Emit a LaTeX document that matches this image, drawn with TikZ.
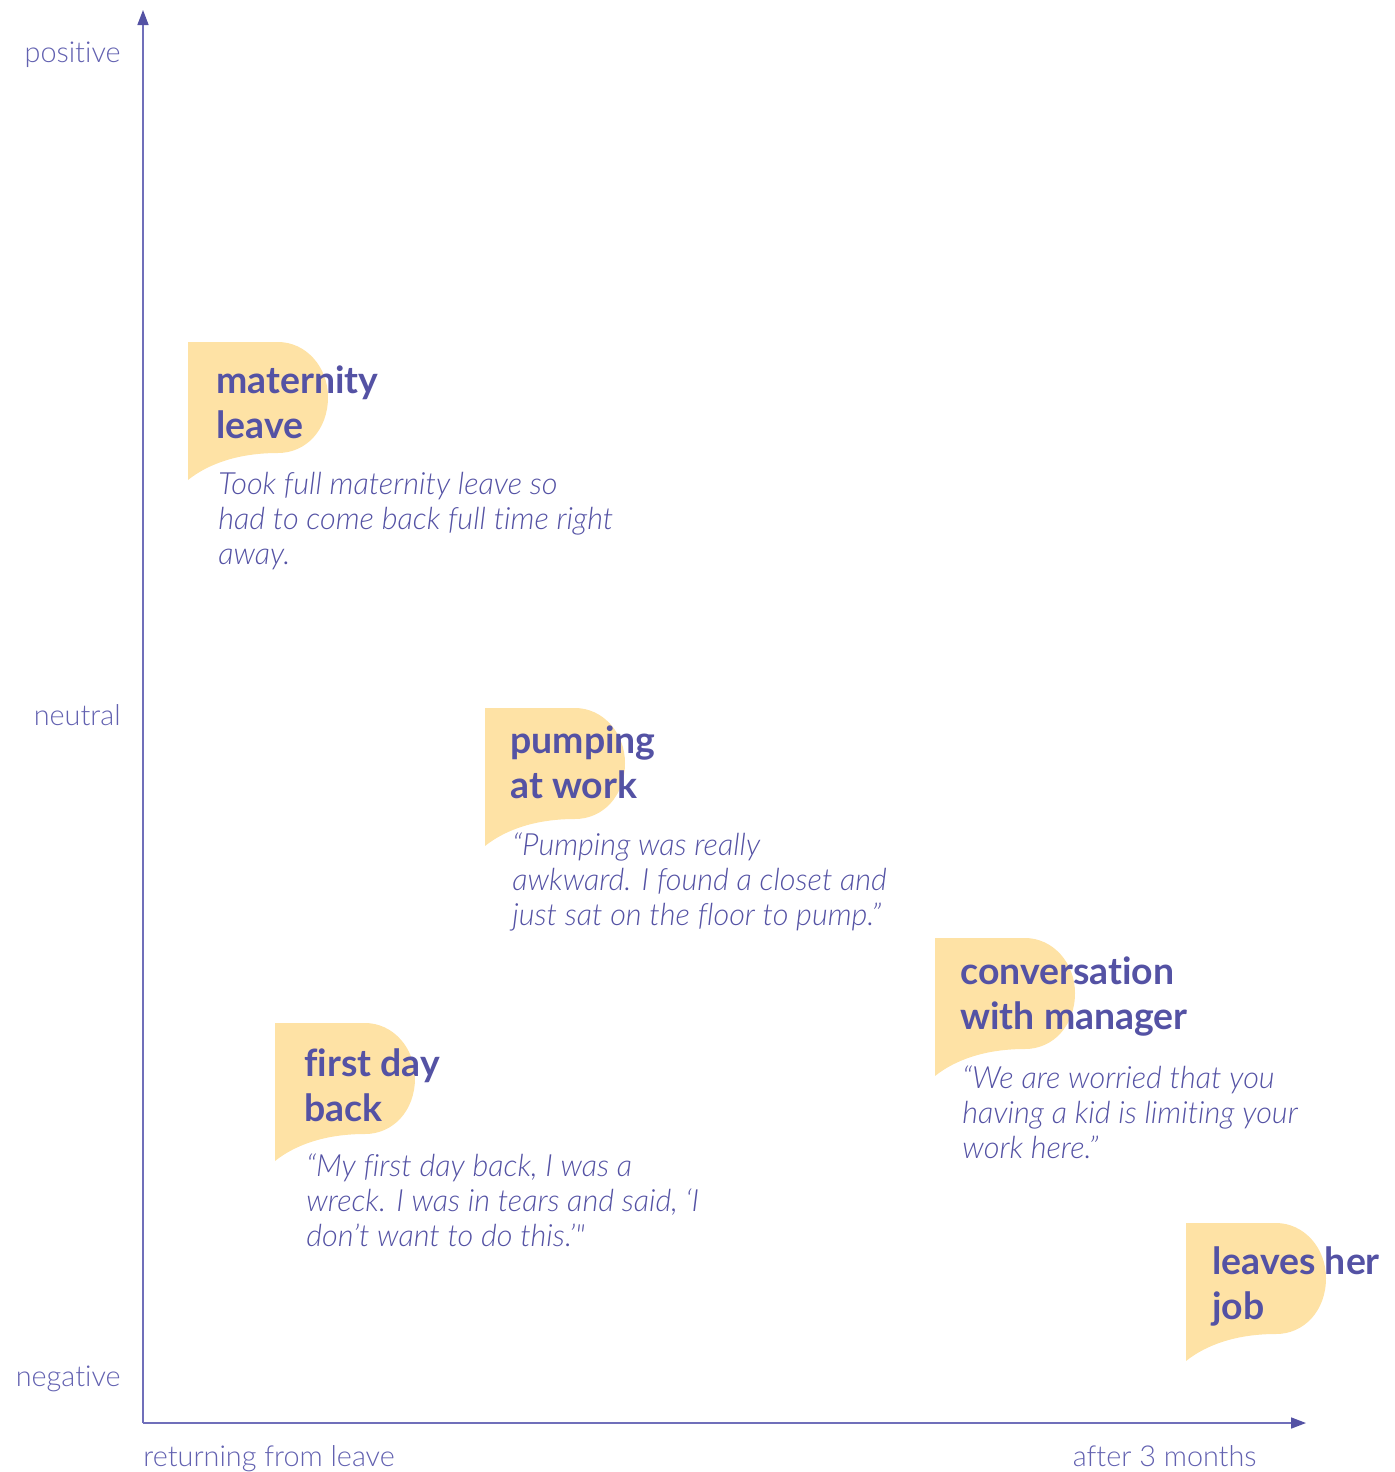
\documentclass[tikz,border=0pt]{standalone}
\usepackage{fontspec}
\setmainfont{Lato}[Ligatures={NoCommon,NoRare,NoDiscretionary}]
\newfontfamily\lightfont{Lato Light}[ItalicFont={Lato Light Italic},Ligatures={NoCommon,NoRare,NoDiscretionary}]
\usetikzlibrary{arrows.meta}

\definecolor{ink}{RGB}{84,82,164}
\definecolor{axisline}{RGB}{112,111,186}
\definecolor{labelink}{RGB}{98,97,176}
\definecolor{blobfill}{RGB}{254,226,165}

\tikzset{
  speechblob/.pic={
    \fill[blobfill] (0,0) -- (90,0)
      .. controls (118,0) and (140,25) .. (140,55)
      .. controls (140,88) and (118,111) .. (90,111)
      .. controls (50,111) and (20,122) .. (0,138) -- cycle;
  },
  axis/.style={draw=axisline, line width=0.8pt,
    -{Triangle[length=7.5pt,width=5.5pt,color=ink]}},
  axislabel/.style={font=\lightfont\fontsize{14.4}{17}\selectfont, text=labelink, inner sep=0pt},
  % multi-line nodes: the base anchor sits on the last line
  title/.style={font=\fontsize{18.7}{22.5}\selectfont\bfseries, text=ink,
    anchor=base west, align=left, inner sep=0pt},
  quote/.style={font=\lightfont\itshape\fontsize{15.3}{17.5}\selectfont, text=ink,
    anchor=base west, align=left, inner sep=0pt},
}

\begin{document}
\begin{tikzpicture}[x=0.5pt, y=-0.5pt]
  \useasboundingbox (0,0) rectangle (1395,1472);

  % axes
  \coordinate (origin) at (143,1423);
  \coordinate (ytip) at (143,10);
  \coordinate (xtip) at (1306,1423);
  \draw[axis] (origin) -- (ytip);
  \draw[axis] (origin) -- (xtip);

  % axis labels
  \node[axislabel, anchor=base east] (lpos) at (121,62) {positive};
  \node[axislabel, anchor=base east] (lneu) at (121,725) {neutral};
  \node[axislabel, anchor=base east] (lneg) at (121,1386) {negative};
  \node[axislabel, anchor=base west] (lstart) at (143,1466) {returning from leave};
  \node[axislabel, anchor=base east] (lend) at (1257,1466) {after 3 months};

  % events
  \pic at (188,342) {speechblob};
  \node[title] (t1) at (216,438) {maternity\\leave};
  \node[quote] (q1) at (218,564) {Took full maternity leave so\\had to come back full time right\\away.};

  \pic at (485,708) {speechblob};
  \node[title] (t2) at (510,798) {pumping\\at work};
  \node[quote] (q2) at (512,925) {“Pumping was really\\awkward. I found a closet and\\just sat on the floor to pump.”};

  \pic at (275,1023) {speechblob};
  \node[title] (t3) at (304,1121) {first day\\back};
  \node[quote] (q3) at (306,1246) {“My first day back, I was a\\wreck. I was in tears and said, ‘I\\don’t want to do this.’"};

  \pic at (935,938) {speechblob};
  \node[title] (t4) at (960,1029) {conversation\\with manager};
  \node[quote] (q4) at (962,1158) {“We are worried that you\\having a kid is limiting your\\work here.”};

  \pic at (1186,1223) {speechblob};
  \node[title] (t5) at (1212,1319) {leaves her\\job};
\end{tikzpicture}
\end{document}
